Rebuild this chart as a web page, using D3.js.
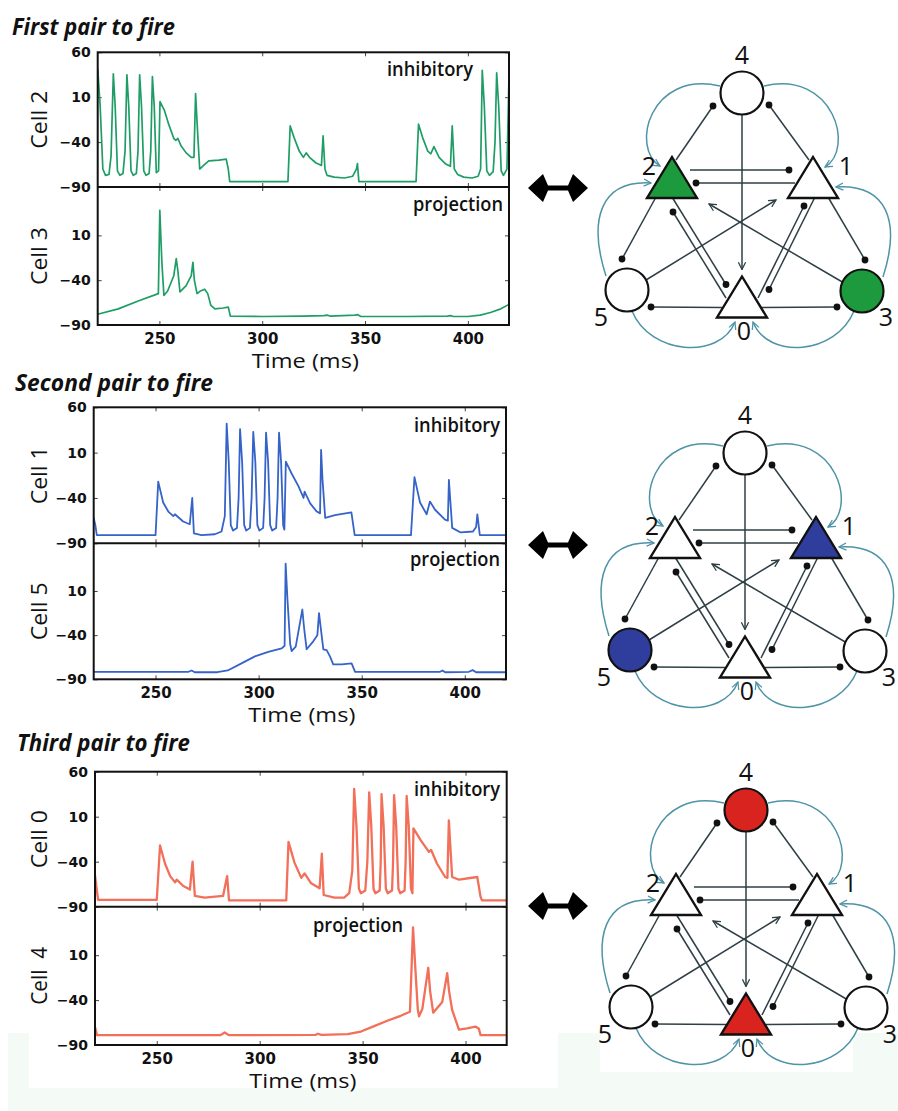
<!DOCTYPE html>
<html><head><meta charset="utf-8">
<script src="https://cdn.jsdelivr.net/npm/d3@7"></script>
<style>body{margin:0;background:#fff}svg{display:block}</style>
</head><body><svg id="c" width="898" height="1111"></svg>
<script>
// ---------------- DATA ----------------
const timeTicks = [250, 300, 350, 400];
const voltTicksTop = [60, 10, -40, -90];
const voltTicksBottom = [10, -40, -90];
const titles = ["First pair to fire", "Second pair to fire", "Third pair to fire"];
const cellLabels = [["Cell 2", "Cell 3"], ["Cell 1", "Cell 5"], ["Cell 0", "Cell  4"]];
const roleLabels = ["inhibitory", "projection"];
const xLabel = "Time (ms)";

// membrane potential traces [time ms, mV]
const cell2 = [[220,42],[221.2,0],[222.5,-70],[223.8,-77],[225.5,-76],[226.5,-55],[227.6,36],[228.5,0],[229.6,-72],[230.8,-77],[232.3,-75],[233.3,-50],[234.2,35],[235.1,0],[236.2,-72],[237.3,-77],[238.8,-75],[239.6,-50],[240.4,35],[241.3,0],[242.4,-72],[243.5,-77],[245,-75],[245.8,-50],[246.6,33],[247.5,0],[248.5,-74],[249.6,-72],[250.3,5],[252.5,-5],[254.5,-20],[257,-36],[258,-38],[259,-36],[260.5,-44],[263,-52],[265.5,-57],[266.8,-57],[267.6,14],[268.6,-30],[269.6,-70],[271.5,-66],[274,-61],[279,-60],[282.5,-59],[283.5,-70],[284.2,-84],[312.5,-84],[313.6,-22],[315.5,-35],[318,-50],[320,-57],[321.4,-52],[323,-57],[326,-63],[328.8,-66],[329.6,-33],[330.5,-70],[331.5,-77],[335,-79],[340,-80],[344,-78],[345.8,-70],[346.3,-64],[347,-84],[374.8,-84],[376,-20],[378,-35],[380.5,-50],[382,-53],[383.5,-45],[386,-57],[389,-64],[391.5,-67],[392.4,-22],[393.4,-70],[395,-76],[398,-79],[402,-80],[405,-78],[406.2,-70],[407,40],[408,0],[409.2,-72],[410.5,-77],[412.3,-73],[413.2,-40],[414,37],[415,0],[416.2,-72],[417.3,-77],[419,-70],[420,34]];
const cell3 = [[220,-78],[230,-72],[240,-63],[249.5,-55],[250.2,38],[251.2,-20],[252.2,-57],[254,-52],[257,-35],[258.2,-16],[259,-30],[260,-53],[263,-46],[265.5,-35],[266.3,-20],[267,-40],[268.3,-55],[270,-52],[272,-50],[273.5,-55],[275,-68],[277,-72],[281,-71],[283.5,-70],[284.5,-80],[300,-80.5],[320,-80],[330,-79.5],[331.5,-79],[333,-80],[345,-79],[346.5,-78.5],[348,-80.5],[370,-80.5],[390,-80],[391.5,-79.5],[393,-80.5],[400,-80.5],[406,-79],[411,-76],[416,-72],[420,-67]];
const cell1 = [[220,-62],[220.8,-70],[221.5,-81],[250,-81],[251.3,-22],[253.7,-45],[256.2,-55],[258.6,-60],[259.4,-58],[263.4,-66],[266.6,-69],[267.8,-40],[268.6,-79],[272.3,-81],[278.8,-80],[282,-77],[283.6,-60],[284.5,42],[285.5,0],[286.5,-70],[287.6,-76],[289.5,-73],[290.3,-40],[291,36],[292,0],[293,-70],[294,-76],[295.8,-73],[296.6,-40],[297.4,33],[298.4,0],[299.4,-70],[300.4,-76],[302.2,-73],[302.9,-40],[303.6,32],[304.6,0],[305.6,-70],[306.6,-76],[308.5,-73],[309.2,-40],[309.9,32],[310.9,0],[311.9,-70],[312.5,-75],[313.2,0],[316,-13],[319.3,-27],[321.8,-40],[322.3,-33],[325,-46],[328.2,-55],[329.8,-57],[330.3,13],[331,-20],[332.3,-62],[337,-59],[345,-56],[346.6,-81],[373.9,-81],[375.6,-17],[378.3,-45],[381.5,-58],[383.1,-44],[385.6,-53],[390.4,-64],[391.8,-65],[392.3,-20],[393.9,-73],[398,-78],[404,-77],[405.5,-72],[406.1,-58],[407.3,-81],[421,-81]];
const cell5 = [[220,-81.5],[266,-81.5],[267.5,-80],[269,-82],[280,-82],[285,-80],[291.7,-72],[298.2,-64],[304.7,-59],[311.2,-55],[312.6,-52],[313.1,41],[314,0],[315.3,-50],[316,-58],[318,-53],[321.2,-11],[322.2,-35],[323.3,-56],[326.5,-47],[328.5,-40],[329.3,-15],[330.3,-35],[331.4,-56],[333,-57],[334.6,-64],[336.2,-73],[340.3,-73],[345.1,-72],[346.8,-81.5],[388,-81.5],[389.2,-80],[390.5,-82],[402,-81.5],[403.8,-79.6],[405.5,-82],[421,-82]];
const cell0 = [[220,-55],[220.8,-70],[221.5,-82.5],[250,-82.5],[251.6,-22],[254,-42],[256.5,-56],[258.9,-63],[259.7,-60],[262.9,-67],[266.1,-71],[267.4,-40],[268.5,-78],[273.3,-80],[282.2,-78],[284.2,-56],[285.1,-83],[312.9,-83],[314,-18],[316.9,-41],[320.2,-58],[321.8,-53],[325,-64],[329.1,-69.5],[330.2,-31],[331.1,-77],[336.3,-80],[341,-80],[343.5,-75],[345,-50],[345.9,41],[347,0],[348.2,-70],[349.2,-75],[351.3,-72],[352.3,-40],[353.2,37],[354.2,0],[355.3,-70],[356.2,-75],[358.3,-72],[358.8,-40],[359.2,35],[360.2,0],[361.3,-70],[362.2,-75],[364.3,-72],[364.8,-40],[365.3,34],[366.3,0],[367.4,-70],[368.3,-75],[370.4,-72],[370.9,-40],[371.4,33],[372.4,0],[373.5,-70],[374.2,-75],[374.7,-3],[378.2,-16],[382.2,-29],[383.3,-27],[386.1,-42],[390.1,-57],[391.2,-58],[391.9,6],[392.8,-30],[393.5,-57],[396.8,-60],[405.7,-57],[407.3,-79],[408,-83],[421,-83]];
const cell4 = [[220,-70],[221,-79],[281,-79],[283,-76],[285,-79],[327,-78.8],[328.2,-77.5],[330,-78.8],[342.7,-78],[349.2,-75],[355.6,-69],[362,-63],[368.5,-57.5],[373,-53],[374.5,41],[375.5,0],[376.8,-50],[377.4,-58],[379,-50],[381.9,-4],[382.8,-30],[384.3,-54],[388.7,-42],[391.1,-10],[392,-30],[393.5,-51],[396.8,-73],[400.8,-71.5],[404.8,-69.5],[406.5,-72],[407.3,-79],[421,-79]];
const traces = [[cell2, cell3], [cell1, cell5], [cell0, cell4]];

// network: triangles = inhibitory cells 0,1,2 ; circles = projection cells 3,4,5
const netNodes = [0, 1, 2, 3, 4, 5];
const triangleNodes = [0, 1, 2];
const inhibitoryEdges = [[2,4],[1,4],[2,1],[1,2],[2,5],[1,3],[2,0],[1,0],[0,2],[0,1],[0,5],[0,3]];
const excitatoryEdges = [[4,0],[5,1],[3,2]];
const projectionEdges = [[4,2],[4,1],[5,2],[3,1],[5,0],[3,0]];
const firingPairs = [[2,3],[1,5],[0,4]];

// ---------------- LAYOUT / STYLE ----------------
const W = 898, H = 1111;
const panelBoxes = [
  {left:97.7, right:509, top:52.3, mid:187, bottom:325, titleY:35, titleW:163, titleX:12,
   inhX:473, inhY:76, projX:503, projY:211},
  {left:93.7, right:506, top:407.3, mid:543.3, bottom:679.3, titleY:390.5, titleW:198, titleX:15,
   inhX:500, inhY:432, projX:500, projY:566},
  {left:95, right:506.7, top:771.7, mid:906.7, bottom:1045, titleY:750.5, titleW:173, titleX:17,
   inhX:500, inhY:796, projX:403, projY:932}
];
const traceColors = ["#1f9d66", "#3563c8", "#f26f5a"];
const traceWidths = [1.7, 1.8, 2.3];
const pairColors = ["#1d9a3e", "#2f3d9c", "#d8231f"];
const diagramOrigins = [[742, 93], [745, 453], [746, 810]];
const arrowYs = [188, 545, 906];
const nodeLayout = {4:[0,0], 2:[-70,90], 1:[71,90], 0:[0,209.5], 5:[-115,197], 3:[120,198]};
const nodeLabelPos = {4:[0,-29], 2:[-93,82], 1:[104,82], 5:[-141,233], 3:[144,233], 0:[2,247]};
// ports: [sourceOffset, targetOffset]
const inhibPorts = [
  [[4,-23],[-29,13]], [[-4,-23],[27,12]], [[18,-13],[-24,-13]], [[-18,0],[24,0]],
  [[-16,14],[-5,-31]], [[15,14],[3,-31]], [[0,14],[-16,-18]], [[2,14],[27,-13]],
  [[-16,-4.5],[1,29]], [[16,-4.5],[-9,23]], [[-20,5],[24,17]], [[20,5],[-25,16]]
];
const excitPorts = [[[0,22],[0,-33]], [[19,-10],[-37,17]], [[-18,-8],[37,21]]];
// curves: [sourceOffset, handle1, handle2, targetOffset]
const projPorts = [
  [[-22,-7],[-70,-16],[-30,-18],[-12,-17]],
  [[22,-7],[70,-16],[30,-18],[12,-16]],
  [[-21,-14],[-18,-56],[-51,-3],[-21,0]],
  [[21,-14],[18,-56],[51,-3],[23,4]],
  [[5,21],[18,44],[-15,38],[-7,19.5]],
  [[-8,20],[-18,44],[15,38],[11,19.5]]
];
const lineDark = "#2e3f45";
const curveTeal = "#4e93a6";

// ---------------- DRAW ----------------
const svg = d3.select("#c");
svg.append("rect").attr("width", W).attr("height", H).attr("fill", "#fff");
// faint mint background at bottom
svg.append("rect").attr("x", 8).attr("y", 1033).attr("width", W - 8).attr("height", H - 1033).attr("fill", "#f4faf6");
svg.append("rect").attr("x", 29).attr("y", 1033).attr("width", 529).attr("height", 55).attr("fill", "#fff");
svg.append("rect").attr("x", 600).attr("y", 1033).attr("width", 253).attr("height", 39).attr("fill", "#fff");

const defs = svg.append("defs");
function chevron(id, color) {
  defs.append("marker").attr("id", id).attr("viewBox", "0 -5 10 10")
    .attr("refX", 9).attr("refY", 0).attr("markerWidth", 9).attr("markerHeight", 9)
    .attr("markerUnits", "userSpaceOnUse").attr("orient", "auto")
    .append("path").attr("d", "M1,-4L9,0L1,4").attr("fill", "none")
    .attr("stroke", color).attr("stroke-width", 1.4);
}
chevron("arrDark", lineDark);
chevron("arrTeal", curveTeal);

panelBoxes.forEach((b, i) => {
  const g = svg.append("g");
  const x = d3.scaleLinear().domain([220, 420]).range([b.left, b.right]);
  const yTop = d3.scaleLinear().domain([-90, 60]).range([b.mid, b.top]);
  const yBot = d3.scaleLinear().domain([-90, 64]).range([b.bottom, b.mid]);
  const subs = [[yTop, b.top, b.mid, voltTicksTop], [yBot, b.mid, b.bottom, voltTicksBottom]];

  // title
  g.append("text").attr("x", b.titleX).attr("y", b.titleY).text(titles[i])
    .attr("font-family", "Open Sans").attr("font-weight", 700).attr("font-style", "italic")
    .attr("font-size", 23).attr("textLength", b.titleW).attr("lengthAdjust", "spacingAndGlyphs")
    .attr("fill", "#111");

  subs.forEach(([y, y0, y1, vt], k) => {
    const cid = `clip${i}${k}`;
    defs.append("clipPath").attr("id", cid).append("rect")
      .attr("x", b.left).attr("y", y0).attr("width", b.right - b.left).attr("height", y1 - y0);
    const axL = g.append("g").attr("transform", `translate(${b.left},0)`)
      .call(d3.axisLeft(y).tickValues(vt).tickSize(-4).tickPadding(7));
    const axR = g.append("g").attr("transform", `translate(${b.right},0)`)
      .call(d3.axisRight(y).tickValues(vt).tickSize(-4).tickFormat(""));
    const axT = g.append("g").attr("transform", `translate(0,${y0})`)
      .call(d3.axisTop(x).tickValues(timeTicks).tickSize(-4).tickFormat(""));
    const axB = g.append("g").attr("transform", `translate(0,${y1})`)
      .call(d3.axisBottom(x).tickValues(timeTicks).tickSize(-4).tickPadding(8)
        .tickFormat(k === 1 ? d3.format("d") : ""));
    [axL, axR, axT, axB].forEach(a => {
      a.select(".domain").remove();
      a.selectAll("line").attr("stroke", "#444").attr("stroke-width", 1);
      a.selectAll("text").attr("font-family", "DejaVu Sans").attr("font-weight", "bold")
        .attr("fill", "#111");
    });
    axL.selectAll("text").attr("font-size", 14);
    axB.selectAll("text").attr("font-size", 15);

    g.append("path").datum(traces[i][k]).attr("clip-path", `url(#${cid})`)
      .attr("d", d3.line().x(d => x(d[0])).y(d => y(d[1])))
      .attr("fill", "none").attr("stroke", traceColors[i]).attr("stroke-width", traceWidths[i])
      .attr("stroke-linejoin", "round");

    g.append("text").attr("transform", `translate(38,${(y0 + y1) / 2}) rotate(-90)`)
      .attr("text-anchor", "middle").attr("dominant-baseline", "central")
      .attr("font-family", "Open Sans").attr("font-size", 22).attr("fill", "#111")
      .attr("style", "white-space:pre").attr("textLength", 58).attr("lengthAdjust", "spacingAndGlyphs")
      .text(cellLabels[i][k]);
  });

  g.append("text").attr("x", b.inhX).attr("y", b.inhY).attr("text-anchor", "end")
    .attr("font-family", "Open Sans").attr("font-weight", 600).attr("font-size", 20)
    .attr("textLength", 86).attr("lengthAdjust", "spacingAndGlyphs").attr("fill", "#111")
    .text(roleLabels[0]);
  g.append("text").attr("x", b.projX).attr("y", b.projY).attr("text-anchor", "end")
    .attr("font-family", "Open Sans").attr("font-weight", 600).attr("font-size", 20)
    .attr("textLength", 90).attr("lengthAdjust", "spacingAndGlyphs").attr("fill", "#111")
    .text(roleLabels[1]);

  g.append("rect").attr("x", b.left).attr("y", b.top).attr("width", b.right - b.left)
    .attr("height", b.bottom - b.top).attr("fill", "none").attr("stroke", "#111").attr("stroke-width", 2);
  g.append("line").attr("x1", b.left).attr("x2", b.right).attr("y1", b.mid).attr("y2", b.mid)
    .attr("stroke", "#111").attr("stroke-width", 2);

  g.append("text").attr("x", (b.left + b.right) / 2 + 2).attr("y", b.bottom + 42.5)
    .attr("text-anchor", "middle").attr("font-family", "Open Sans").attr("font-size", 20)
    .attr("textLength", 107).attr("lengthAdjust", "spacingAndGlyphs").attr("fill", "#111").text(xLabel);

  // double arrow
  svg.append("path").attr("transform", `translate(558,${arrowYs[i]})`)
    .attr("d", "M-30,0L-15,-14L-10,-2.6L10,-2.6L15,-14L30,0L15,14L10,2.6L-10,2.6L-15,14Z")
    .attr("fill", "#000");

  // ---------- network diagram ----------
  const [ox, oy] = diagramOrigins[i];
  const sx = d3.scaleLinear().domain([-200, 200]).range([ox - 200, ox + 200]);
  const sy = d3.scaleLinear().domain([-100, 300]).range([oy - 100, oy + 300]);
  const ng = svg.append("g");
  const P = (n, off) => [sx(nodeLayout[n][0] + off[0]), sy(nodeLayout[n][1] + off[1])];

  projectionEdges.forEach(([s, t], j) => {
    const [so, h1, h2, to] = projPorts[j];
    const p0 = P(s, so), p3 = P(t, to);
    const p1 = [p0[0] + h1[0], p0[1] + h1[1]], p2 = [p3[0] + h2[0], p3[1] + h2[1]];
    const path = d3.path();
    path.moveTo(...p0); path.bezierCurveTo(...p1, ...p2, ...p3);
    ng.append("path").attr("d", path.toString()).attr("fill", "none")
      .attr("stroke", curveTeal).attr("stroke-width", 1.5).attr("marker-end", "url(#arrTeal)");
  });
  excitatoryEdges.forEach(([s, t], j) => {
    const a = P(s, excitPorts[j][0]), c = P(t, excitPorts[j][1]);
    ng.append("line").attr("x1", a[0]).attr("y1", a[1]).attr("x2", c[0]).attr("y2", c[1])
      .attr("stroke", lineDark).attr("stroke-width", 1.5).attr("marker-end", "url(#arrDark)");
  });
  inhibitoryEdges.forEach(([s, t], j) => {
    const a = P(s, inhibPorts[j][0]), c = P(t, inhibPorts[j][1]);
    ng.append("line").attr("x1", a[0]).attr("y1", a[1]).attr("x2", c[0]).attr("y2", c[1])
      .attr("stroke", lineDark).attr("stroke-width", 1.5);
    ng.append("circle").attr("cx", c[0]).attr("cy", c[1]).attr("r", 3.4).attr("fill", "#111");
  });
  netNodes.forEach(n => {
    const [cx, cy] = P(n, [0, 0]);
    const fill = firingPairs[i].includes(n) ? pairColors[i] : "#fff";
    if (triangleNodes.includes(n)) {
      ng.append("path").attr("d", `M${cx},${cy - 26}L${cx + 25},${cy + 15}L${cx - 25},${cy + 15}Z`)
        .attr("fill", fill).attr("stroke", "#111").attr("stroke-width", 2.4).attr("stroke-linejoin", "miter");
    } else {
      ng.append("circle").attr("cx", cx).attr("cy", cy).attr("r", 21.5)
        .attr("fill", fill).attr("stroke", "#111").attr("stroke-width", 2.2);
    }
    const lp = P(4, nodeLabelPos[n]);
    ng.append("text").attr("x", lp[0]).attr("y", lp[1]).attr("text-anchor", "middle")
      .attr("font-family", "Open Sans").attr("font-size", 25).attr("fill", "#111").text(n);
  });
});
</script></body></html>
